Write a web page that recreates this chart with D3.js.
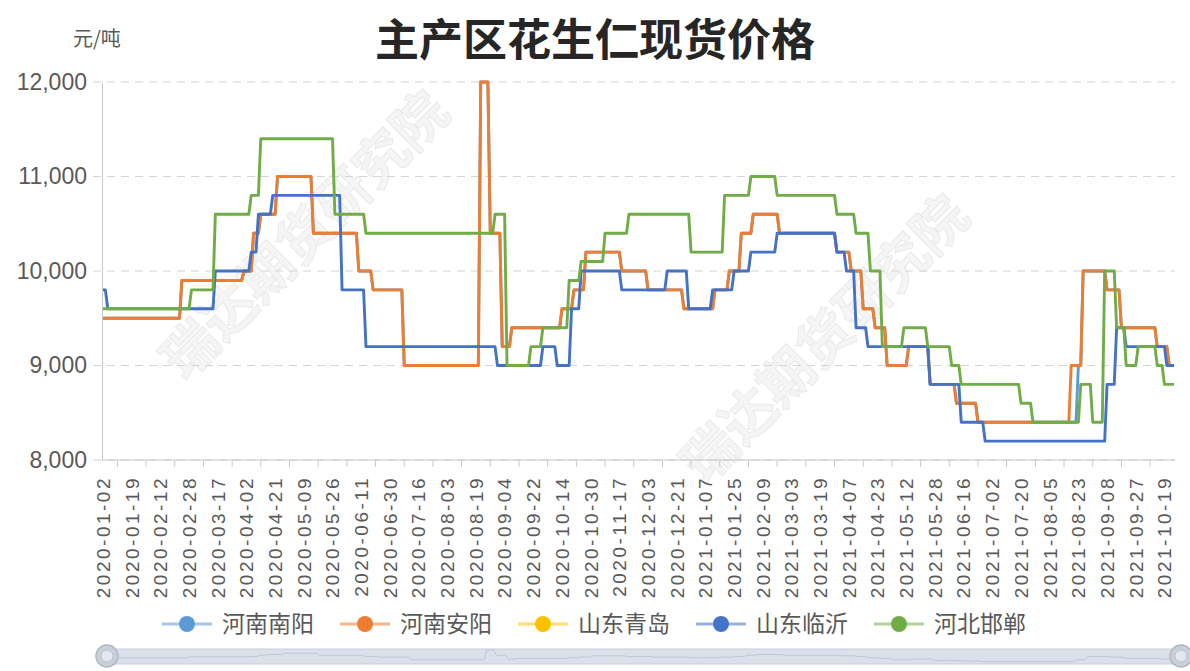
<!DOCTYPE html>
<html>
<head>
<meta charset="utf-8">
<script src="https://cdn.jsdelivr.net/npm/d3@7"></script>
<style>
  body { margin: 0; background: #fff; }
  svg { display: block; }
</style>
</head>
<body>
<svg width="1190" height="671"></svg>
<script>
// category axis: working days, one label every 12 days
var categoryCount = 449;
var labelStep = 12;
var tickLabels = [
  "2020-01-02", "2020-01-19", "2020-02-12", "2020-02-28", "2020-03-17", "2020-04-02",
  "2020-04-21", "2020-05-09", "2020-05-26", "2020-06-11", "2020-06-30", "2020-07-16",
  "2020-08-03", "2020-08-19", "2020-09-04", "2020-09-22", "2020-10-14", "2020-10-30",
  "2020-11-17", "2020-12-03", "2020-12-21", "2021-01-07", "2021-01-25", "2021-02-09",
  "2021-03-03", "2021-03-19", "2021-04-07", "2021-04-23", "2021-05-12", "2021-05-28",
  "2021-06-16", "2021-07-02", "2021-07-20", "2021-08-05", "2021-08-23", "2021-09-08",
  "2021-09-27", "2021-10-19"
];
var yTicks = [8000, 9000, 10000, 11000, 12000];

// price runs: [first category index, price in 元/吨]
var nanyang = [
  [0, 9500], [33, 9900], [59, 10000], [63, 10400], [66, 10600], [73, 11000], [88, 10400],
  [107, 10000], [113, 9800], [126, 9000], [158, 12000], [162, 10400], [167, 9200], [171, 9400],
  [192, 9600], [197, 9800], [202, 10200], [217, 10000], [228, 9800], [243, 9600], [256, 9800],
  [262, 10000], [267, 10400], [272, 10600], [283, 10400], [307, 10200], [313, 10000], [318, 9600],
  [323, 9400], [328, 9000], [337, 9200], [346, 8800], [357, 8600], [366, 8400], [408, 9000],
  [410, 10000], [420, 9800], [426, 9400], [441, 9200], [446, 9000]
];
var anyang = [
  [0, 9500], [33, 9900], [59, 10000], [63, 10400], [66, 10600], [73, 11000], [88, 10400],
  [107, 10000], [113, 9800], [126, 9000], [158, 12000], [162, 10400], [167, 9200], [171, 9400],
  [192, 9600], [197, 9800], [202, 10200], [217, 10000], [228, 9800], [243, 9600], [256, 9800],
  [262, 10000], [267, 10400], [272, 10600], [283, 10400], [307, 10200], [313, 10000], [318, 9600],
  [323, 9400], [328, 9000], [337, 9200], [346, 8800], [357, 8600], [366, 8400], [405, 9000],
  [410, 10000], [420, 9800], [426, 9400], [441, 9200], [446, 9000]
];
var qingdao = [];
var linyi = [
  [0, 9800], [2, 9600], [47, 10000], [62, 10200], [65, 10600], [71, 10800], [100, 9800],
  [110, 9200], [165, 9000], [184, 9200], [190, 9000], [196, 9600], [200, 10000], [217, 9800],
  [236, 10000], [245, 9600], [255, 9800], [264, 10000], [271, 10200], [282, 10400], [307, 10200],
  [311, 10000], [315, 9400], [320, 9200], [346, 8800], [359, 8400], [369, 8200], [420, 8800],
  [424, 9400], [428, 9200], [445, 9000]
];
var handan = [
  [0, 9600], [37, 9800], [47, 10600], [62, 10800], [66, 11400], [97, 10600], [110, 10400],
  [164, 10600], [169, 9000], [179, 9200], [184, 9400], [195, 9900], [200, 10100], [210, 10400],
  [220, 10600], [246, 10200], [260, 10800], [271, 11000], [282, 10800], [307, 10600], [315, 10400],
  [321, 10000], [326, 9200], [335, 9400], [345, 9200], [355, 9000], [359, 8800], [384, 8600],
  [389, 8400], [409, 8800], [414, 8400], [419, 10000], [424, 9400], [428, 9000], [433, 9200],
  [441, 9000], [444, 8800]
];

var seriesNames = ["河南南阳", "河南安阳", "山东青岛", "山东临沂", "河北邯郸"];
var seriesRuns = [nanyang, anyang, qingdao, linyi, handan];
var colors = ["#5b9bd5", "#ed7d31", "#ffc000", "#4472c4", "#70ad47"];

var svg = d3.select("svg");
var plotLeft = 103, plotRight = 1174, plotTop = 82, plotBottom = 460;

var x = d3.scaleLinear().domain([0, categoryCount - 1]).range([plotLeft, plotRight]);
var y = d3.scaleLinear().domain([8000, 12000]).range([plotBottom, plotTop]);

// one value per category from the runs
var expand = function (runs) {
  var out = [];
  runs.forEach(function (r, k) {
    var end = k + 1 < runs.length ? runs[k + 1][0] : categoryCount;
    for (var i = r[0]; i < end; i++) out.push([i, r[1]]);
  });
  return out;
};

// watermark
var wm = svg.append("g").attr("class", "watermark");
[[302, 232], [822, 336]].forEach(function (p) {
  wm.append("text")
    .attr("transform", "translate(" + p[0] + "," + p[1] + ") rotate(-45)")
    .attr("text-anchor", "middle")
    .attr("dominant-baseline", "central")
    .attr("font-family", "Noto Sans CJK SC")
    .attr("font-weight", 700)
    .attr("font-size", 54)
    .attr("fill", "#f5f5f5")
    .attr("stroke", "#e9e9e9")
    .attr("stroke-width", 1)
    .text("瑞达期货研究院");
});

// gridlines
svg.append("g")
  .attr("class", "grid")
  .selectAll("line")
  .data(yTicks)
  .enter()
  .append("line")
  .attr("x1", 93)
  .attr("x2", 1175)
  .attr("y1", function (d) { return y(d); })
  .attr("y2", function (d) { return y(d); })
  .attr("stroke", "#d4d4d4")
  .attr("stroke-width", 1)
  .attr("stroke-dasharray", "8,6");

// y axis
var yAxis = svg.append("g")
  .attr("transform", "translate(" + (plotLeft - 1) + ",0)")
  .call(d3.axisLeft(y).tickValues(yTicks).tickFormat(d3.format(",")).tickSize(0).tickPadding(15));
yAxis.select(".domain").attr("stroke", "#c8c8c8");
yAxis.selectAll("text")
  .attr("font-family", "Liberation Sans, Arial")
  .attr("font-size", 23)
  .attr("fill", "#595959");

// x axis
var xAxis = svg.append("g").attr("transform", "translate(0," + plotBottom + ")");
xAxis.append("line")
  .attr("x1", plotLeft - 1).attr("x2", 1175)
  .attr("stroke", "#c8c8c8");
xAxis.selectAll(".tick")
  .data(d3.range(labelStep / 2, categoryCount - labelStep / 2, labelStep))
  .enter()
  .append("line")
  .attr("class", "tick")
  .attr("x1", function (d) { return x(d); })
  .attr("x2", function (d) { return x(d); })
  .attr("y1", 0).attr("y2", 7)
  .attr("stroke", "#c8c8c8");
xAxis.selectAll("text")
  .data(tickLabels)
  .enter()
  .append("text")
  .attr("transform", function (d, i) {
    return "translate(" + x(i * labelStep) + ",16) rotate(-90)";
  })
  .attr("text-anchor", "end")
  .attr("dy", "0.36em")
  .attr("font-family", "Liberation Sans, Arial")
  .attr("font-size", 19)
  .attr("letter-spacing", 2.5)
  .attr("fill", "#595959")
  .text(function (d) { return d; });

// lines
var line = d3.line()
  .x(function (d) { return x(d[0]); })
  .y(function (d) { return y(d[1]); });

svg.append("g")
  .attr("class", "lines")
  .selectAll("path")
  .data(seriesRuns)
  .enter()
  .append("path")
  .attr("d", function (d) { return d.length ? line(expand(d)) : null; })
  .attr("fill", "none")
  .attr("stroke", function (d, i) { return colors[i]; })
  .attr("stroke-width", 2.9)
  .attr("stroke-linejoin", "round");

// title and unit
svg.append("text")
  .attr("x", 595).attr("y", 56)
  .attr("text-anchor", "middle")
  .attr("font-family", "Noto Sans CJK SC")
  .attr("font-weight", 700)
  .attr("font-size", 44)
  .attr("fill", "#262626")
  .text("主产区花生仁现货价格");

svg.append("text")
  .attr("x", 73).attr("y", 46)
  .attr("font-family", "Noto Sans CJK SC")
  .attr("font-size", 20)
  .attr("fill", "#595959")
  .text("元/吨");

// legend
var legend = svg.append("g")
  .attr("class", "legend")
  .selectAll("g")
  .data(seriesNames)
  .enter()
  .append("g")
  .attr("transform", function (d, i) { return "translate(" + (187 + i * 178) + ",624)"; });
legend.append("line")
  .attr("x1", -25).attr("x2", 25)
  .attr("stroke", function (d, i) { return colors[i]; })
  .attr("stroke-width", 3)
  .attr("opacity", 0.55);
legend.append("circle")
  .attr("r", 8)
  .attr("fill", function (d, i) { return colors[i]; });
legend.append("text")
  .attr("x", 35)
  .attr("dy", "0.36em")
  .attr("font-family", "Noto Sans CJK SC")
  .attr("font-size", 23)
  .attr("fill", "#595959")
  .text(function (d) { return d; });

// zoom slider
var slider = svg.append("g").attr("class", "slider");
var sx = d3.scaleLinear().domain([0, categoryCount - 1]).range([110, 1178]);
var sy = d3.scaleLinear().domain([8000, 12000]).range([663, 650]);
slider.append("rect")
  .attr("x", 107).attr("y", 649)
  .attr("width", 1074).attr("height", 15)
  .attr("rx", 7)
  .attr("fill", "#dbe1ea")
  .attr("stroke", "#c6cfdb");
slider.append("path")
  .attr("d", d3.line().x(function (d) { return sx(d[0]); }).y(function (d) { return sy(d[1]); })(expand(anyang)))
  .attr("fill", "none")
  .attr("stroke", "#bcc6d4")
  .attr("stroke-width", 1);
[107, 1181].forEach(function (hx) {
  slider.append("circle")
    .attr("cx", hx).attr("cy", 656).attr("r", 11)
    .attr("fill", "#c9d0da")
    .attr("stroke", "#aeb8c6")
    .attr("stroke-width", 1.5);
  slider.append("circle")
    .attr("cx", hx).attr("cy", 656).attr("r", 6)
    .attr("fill", "#e4e8ee")
    .attr("stroke", "#b8c1cd");
});
</script>
</body>
</html>
